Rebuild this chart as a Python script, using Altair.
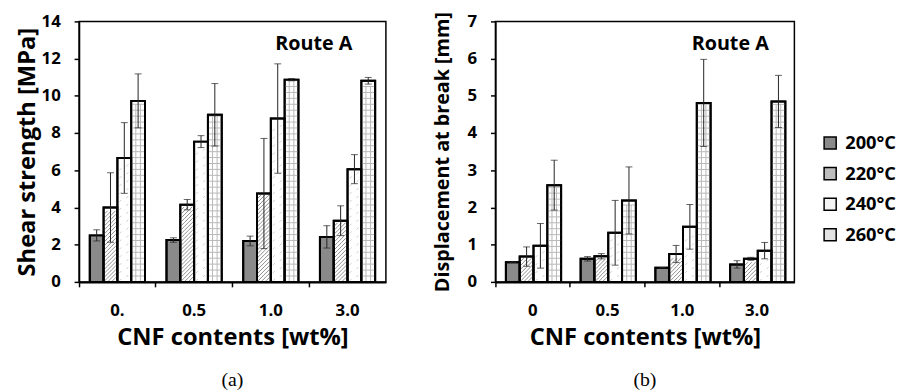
import altair as alt
import pandas as pd

# ---- data ----
temps = ["200°C", "220°C", "240°C", "260°C"]
cats_a = ["0.", "0.5", "1.0", "3.0"]
cats_b = ["0", "0.5", "1.0", "3.0"]

shear_200 = [2.50, 2.25, 2.20, 2.42]
shear_220 = [4.00, 4.15, 4.75, 3.29]
shear_240 = [6.66, 7.54, 8.78, 6.06]
shear_260 = [9.73, 8.98, 10.87, 10.81]
shear_200_err = [0.30, 0.12, 0.26, 0.60]
shear_220_err = [1.87, 0.28, 2.96, 0.80]
shear_240_err = [1.90, 0.32, 2.94, 0.78]
shear_260_err = [1.45, 1.68, 0.06, 0.18]

disp_200 = [0.53, 0.62, 0.38, 0.47]
disp_220 = [0.68, 0.69, 0.75, 0.62]
disp_240 = [0.97, 1.32, 1.48, 0.84]
disp_260 = [2.60, 2.19, 4.81, 4.85]
disp_200_err = [0.00, 0.06, 0.00, 0.10]
disp_220_err = [0.26, 0.07, 0.23, 0.04]
disp_240_err = [0.60, 0.87, 0.60, 0.22]
disp_260_err = [0.67, 0.90, 1.17, 0.70]

# ---- styling ----
bar_fills = ["#8a8a8a", "#ffffff", "#ffffff", "#ffffff"]
legend_fills = ["#8a8a8a", "#bdbdbd", "#f4f4f4", "#e2e2e2"]
FONT = "Open Sans"
PLOT_H = 264


def hatch_path(p):
    segs = []
    c = 0
    while c <= 14 + p:
        y0, y1 = max(0, c - 14), min(p, c)
        if y1 > y0:
            segs.append("M{:.3f},{:.3f}L{:.3f},{:.3f}".format(
                (c - y0) / 7 - 1, y0 / 7 - p / 14,
                (c - y1) / 7 - 1, y1 / 7 - p / 14))
        c += p
    return "".join(segs)


def px_path(segs, p):
    return "".join("M{:.3f},{:.3f}L{:.3f},{:.3f}".format(
        a / 7 - 1, b / 7 - p / 14, c / 7 - 1, d / 7 - p / 14) for a, b, c, d in segs)


# texture tiles: (tile height px, shape path, colour)
TEXTURES = {
    "220°C": (4, hatch_path(4), "#8c8c8c"),
    "240°C": (8, px_path([(2, 7, 4, 5), (9, 3, 11, 1)], 8), "#cccccc"),
    "260°C": (6, px_path([(0, 0, 14, 0), (4.67, 0, 4.67, 6), (9.33, 0, 9.33, 6)], 6), "#b8b8b8"),
}


def make_df(cats, vals, errs):
    rows = []
    for t, vs, es in zip(temps, vals, errs):
        for c, v, e in zip(cats, vs, es):
            rows.append({"cnf": c, "temp": t, "v": v, "lo": v - e, "hi": v + e})
    return pd.DataFrame(rows)


def texture_df(df, temp, ymax):
    p = TEXTURES[temp][0]
    rows = []
    for _, r in df[df.temp == temp].iterrows():
        v_px = r.v / ymax * PLOT_H
        k = 0
        while (k + 1) * p <= v_px - 0.5:
            rows.append({"cnf": r.cnf, "temp": temp, "yc": (k + 0.5) * p * ymax / PLOT_H})
            k += 1
    return pd.DataFrame(rows)


def panel(cats, vals, errs, ymax, ytitle, ytitle_size, ytitle_pad, width, caption, show_legend):
    df = make_df(cats, vals, errs)
    base = alt.Chart(df)
    bar_w = width / 4 * 0.72 / 4
    x_axis = alt.Axis(
        title="CNF contents [wt%]", labelAngle=0, bandPosition=-0.194,
        tickSize=5, tickColor="black", tickWidth=1.5,
        domainColor="black", domainWidth=2, labelFont=FONT, labelFontSize=17,
        labelFontWeight="bold", labelColor="black", labelPadding=16,
        titleFont=FONT, titleFontSize=24, titleFontWeight="bold",
        titleColor="black", titlePadding=7,
    )
    x = alt.X("cnf:N", sort=cats,
              scale=alt.Scale(paddingInner=0.28, paddingOuter=0.14), axis=x_axis)
    xo = alt.XOffset("temp:N", sort=temps,
                     scale=alt.Scale(domain=temps, paddingInner=0, paddingOuter=0))
    yscale = alt.Scale(domain=[0, ymax], nice=False)
    y_axis = alt.Axis(
        title=ytitle, values=list(range(0, ymax + 1, 2 if ymax > 7 else 1)),
        tickSize=5, tickColor="black", tickWidth=1.5, domainColor="black",
        domainWidth=1.5, grid=False, labelFont=FONT, labelFontSize=17,
        labelFontWeight="bold", labelColor="black", labelPadding=14,
        labelOverlap=False, titleFont=FONT, titleFontSize=ytitle_size,
        titleFontWeight="bold", titleColor="black", titlePadding=ytitle_pad,
    )

    def Y(field):
        return alt.Y(field, scale=yscale, axis=y_axis, title=ytitle)

    bars = base.mark_bar(stroke="black", strokeWidth=2).encode(
        x=x, xOffset=xo, y=Y("v:Q"),
        fill=alt.Fill("temp:N", sort=temps,
                      scale=alt.Scale(domain=temps, range=bar_fills), legend=None),
    )
    layers = [bars]
    for t in ["220°C", "240°C", "260°C"]:
        p, path, col = TEXTURES[t]
        tdf = texture_df(df, t, ymax)
        layers.append(
            alt.Chart(tdf).mark_point(shape=path, size=bar_w * bar_w, filled=False,
                                      stroke=col, strokeWidth=1, opacity=1).encode(
                x=x, xOffset=xo, y=Y("yc:Q"),
            )
        )
    outline = base.mark_bar(stroke="black", strokeWidth=2, fillOpacity=0).encode(
        x=x, xOffset=xo, y=Y("v:Q"))
    rule = base.mark_rule(color="#222222", strokeWidth=1).encode(
        x=x, xOffset=xo, y=Y("lo:Q"), y2="hi:Q")
    cap_hi = base.mark_tick(color="#222222", thickness=1, size=7).encode(
        x=x, xOffset=xo, y=Y("hi:Q"))
    cap_lo = base.mark_tick(color="#222222", thickness=1, size=7).encode(
        x=x, xOffset=xo, y=Y("lo:Q"))
    route = alt.Chart(pd.DataFrame({"t": ["Route A"]})).mark_text(
        font=FONT, fontSize=20, fontWeight="bold", color="black",
        align="center", baseline="middle",
    ).encode(x=alt.value(238), y=alt.value(23), text="t:N")
    layers += [outline, rule, cap_hi, cap_lo, route]
    if show_legend:
        leg = alt.Chart(pd.DataFrame({"temp": temps})).mark_square(size=0, opacity=1).encode(
            fill=alt.Fill("temp:N", sort=temps,
                          scale=alt.Scale(domain=temps, range=legend_fills),
                          legend=alt.Legend(
                              title=None, orient="none", legendX=330, legendY=114,
                              symbolType="square", symbolSize=150,
                              symbolStrokeColor="black", symbolStrokeWidth=1.5,
                              symbolOpacity=1, labelFont=FONT, labelFontSize=18.5,
                              labelFontWeight="bold", labelColor="black",
                              rowPadding=12, labelOffset=6, padding=0,
                          )),
        )
        layers.append(leg)
    return alt.layer(*layers).resolve_scale(fill="independent").properties(
        width=width, height=PLOT_H,
        title=alt.TitleParams(caption, orient="bottom", font="Liberation Serif",
                              fontSize=20, fontWeight="normal", color="black",
                              offset=21),
    )


pa = panel(cats_a, [shear_200, shear_220, shear_240, shear_260],
           [shear_200_err, shear_220_err, shear_240_err, shear_260_err],
           14, "Shear strength [MPa]", 24, 2, 311, "(a)", False)
pb = panel(cats_b, [disp_200, disp_220, disp_240, disp_260],
           [disp_200_err, disp_220_err, disp_240_err, disp_260_err],
           7, "Displacement at break [mm]", 20, 15, 303, "(b)", True)

chart = alt.hconcat(pa, pb, spacing=45).resolve_legend(fill="independent").properties(
    padding={"left": 6, "top": 0, "right": 0, "bottom": 0}
).configure_view(stroke="black", strokeWidth=1.5)

chart.save("out.html", embed_options={"renderer": "svg", "actions": False})
